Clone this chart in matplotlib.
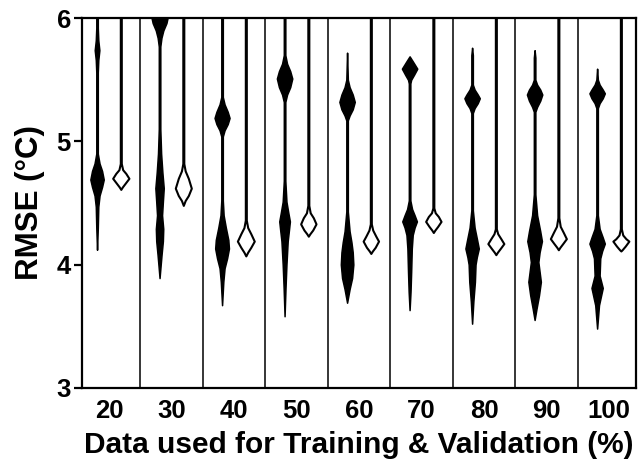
import matplotlib
matplotlib.use("Agg")
import matplotlib.pyplot as plt

plt.rcParams["font.family"] = ["Liberation Sans", "DejaVu Sans"]
plt.rcParams["font.weight"] = "bold"

groups = ["20", "30", "40", "50", "60", "70", "80", "90", "100"]

# violin outlines: (RMSE, half width in group units)
filled_profiles = [
    [(6.20, 0.012), (5.92, 0.012), (5.82, 0.02), (5.74, 0.037), (5.66, 0.02), (5.56, 0.012),
     (4.90, 0.012), (4.82, 0.04), (4.76, 0.08), (4.69, 0.107), (4.63, 0.08), (4.56, 0.04),
     (4.47, 0.02), (4.30, 0.012), (4.12, 0.0)],
    [(6.20, 0.0), (6.10, 0.09), (6.03, 0.14), (5.96, 0.11), (5.90, 0.06), (5.84, 0.03),
     (5.77, 0.012), (5.10, 0.012), (4.90, 0.025), (4.75, 0.045), (4.62, 0.067), (4.51, 0.053),
     (4.40, 0.04), (4.29, 0.059), (4.19, 0.053), (4.08, 0.032), (3.98, 0.015), (3.89, 0.0)],
    [(6.20, 0.012), (5.36, 0.012), (5.30, 0.04), (5.24, 0.09), (5.19, 0.12), (5.14, 0.09),
     (5.09, 0.04), (5.04, 0.012), (4.52, 0.012), (4.40, 0.025), (4.30, 0.06), (4.20, 0.10),
     (4.13, 0.11), (4.05, 0.08), (3.97, 0.04), (3.86, 0.02), (3.67, 0.0)],
    [(6.20, 0.012), (5.70, 0.012), (5.63, 0.04), (5.57, 0.09), (5.51, 0.123), (5.44, 0.09),
     (5.38, 0.04), (5.32, 0.012), (4.68, 0.012), (4.51, 0.03), (4.42, 0.06), (4.35, 0.085),
     (4.28, 0.07), (4.19, 0.05), (4.00, 0.03), (3.81, 0.015), (3.58, 0.0)],
    [(5.72, 0.0), (5.50, 0.012), (5.44, 0.04), (5.38, 0.09), (5.32, 0.123), (5.26, 0.09),
     (5.21, 0.04), (5.17, 0.012), (4.43, 0.012), (4.27, 0.04), (4.18, 0.07), (4.10, 0.09),
     (4.00, 0.10), (3.89, 0.08), (3.80, 0.04), (3.69, 0.0)],
    [(5.69, 0.0), (5.65, 0.05), (5.59, 0.123), (5.54, 0.07), (5.50, 0.025), (5.47, 0.012),
     (4.52, 0.012), (4.45, 0.04), (4.40, 0.08), (4.35, 0.117), (4.30, 0.08), (4.24, 0.05),
     (4.13, 0.035), (3.94, 0.025), (3.78, 0.015), (3.63, 0.0)],
    [(5.76, 0.0), (5.70, 0.012), (5.46, 0.012), (5.42, 0.04), (5.38, 0.09), (5.35, 0.123),
     (5.31, 0.09), (5.27, 0.04), (5.23, 0.012), (4.44, 0.012), (4.30, 0.04), (4.20, 0.08),
     (4.13, 0.107), (4.06, 0.075), (4.00, 0.055), (3.86, 0.045), (3.70, 0.02), (3.52, 0.0)],
    [(5.74, 0.0), (5.68, 0.012), (5.50, 0.012), (5.46, 0.04), (5.42, 0.09), (5.38, 0.123),
     (5.33, 0.09), (5.28, 0.04), (5.24, 0.012), (4.57, 0.012), (4.40, 0.04), (4.27, 0.09),
     (4.19, 0.117), (4.10, 0.08), (4.02, 0.06), (3.94, 0.08), (3.86, 0.10), (3.75, 0.07),
     (3.64, 0.03), (3.55, 0.0)],
    [(5.59, 0.0), (5.50, 0.012), (5.46, 0.04), (5.42, 0.09), (5.39, 0.123), (5.35, 0.09),
     (5.31, 0.04), (5.27, 0.012), (4.40, 0.012), (4.29, 0.04), (4.22, 0.09), (4.17, 0.123),
     (4.11, 0.08), (4.05, 0.05), (3.91, 0.04), (3.86, 0.065), (3.81, 0.09), (3.74, 0.06),
     (3.67, 0.03), (3.48, 0.0)],
]

open_profiles = [
    [(6.20, 0.008), (4.82, 0.008), (4.77, 0.03), (4.74, 0.08), (4.70, 0.13), (4.66, 0.07),
     (4.63, 0.025), (4.61, 0.0)],
    [(6.20, 0.008), (4.82, 0.008), (4.76, 0.03), (4.70, 0.08), (4.62, 0.128), (4.56, 0.08),
     (4.52, 0.03), (4.48, 0.0)],
    [(6.20, 0.008), (4.36, 0.008), (4.30, 0.03), (4.25, 0.08), (4.19, 0.135), (4.14, 0.08),
     (4.10, 0.03), (4.07, 0.0)],
    [(6.20, 0.008), (4.48, 0.008), (4.42, 0.03), (4.38, 0.08), (4.33, 0.123), (4.28, 0.07),
     (4.25, 0.025), (4.23, 0.0)],
    [(6.20, 0.008), (4.33, 0.008), (4.28, 0.03), (4.23, 0.08), (4.19, 0.123), (4.14, 0.07),
     (4.11, 0.025), (4.09, 0.0)],
    [(6.20, 0.008), (4.46, 0.008), (4.42, 0.03), (4.39, 0.08), (4.35, 0.123), (4.31, 0.07),
     (4.28, 0.025), (4.26, 0.0)],
    [(6.20, 0.008), (4.29, 0.008), (4.25, 0.03), (4.21, 0.08), (4.17, 0.128), (4.13, 0.07),
     (4.10, 0.025), (4.08, 0.0)],
    [(6.20, 0.008), (4.38, 0.008), (4.31, 0.03), (4.26, 0.08), (4.21, 0.128), (4.17, 0.07),
     (4.14, 0.025), (4.12, 0.0)],
    [(6.20, 0.008), (4.29, 0.008), (4.24, 0.03), (4.21, 0.08), (4.19, 0.128), (4.15, 0.07),
     (4.12, 0.02), (4.11, 0.0)],
]

offset = 0.19

fig = plt.figure(figsize=(6.41, 4.66), dpi=100)
ax = fig.add_axes([0.128, 0.168, 0.864, 0.793])


def draw_violin(ax, x0, profile, face, lw):
    ys = [p[0] for p in profile]
    hw = [p[1] for p in profile]
    ax.fill_betweenx(ys, [x0 - w for w in hw], [x0 + w for w in hw],
                     facecolor=face, edgecolor="black", linewidth=lw, zorder=3)


for i in range(len(groups)):
    draw_violin(ax, i - offset, filled_profiles[i], "black", 1.1)
    draw_violin(ax, i + offset, open_profiles[i], "white", 1.5)

# group separators
for i in range(len(groups) - 1):
    ax.axvline(i + 0.5, color="black", linewidth=1.1, zorder=2)

ax.set_xlim(-0.43, len(groups) - 1 + 0.43)
ax.set_ylim(3, 6)
ax.set_yticks([3, 4, 5, 6])
ax.set_xticks(range(len(groups)))
ax.set_xticklabels(groups)

for s in ax.spines.values():
    s.set_linewidth(1.6)

ax.tick_params(axis="x", length=0, pad=8, labelsize=18.5)
ax.tick_params(axis="y", length=6, width=1.6, pad=2, labelsize=18.5)

ax.set_xlabel("Data used for Training & Validation (%)", fontsize=21.5, fontweight="bold")
ax.set_ylabel("RMSE (°C)", fontsize=22.5, fontweight="bold")
ax.yaxis.set_label_coords(-0.066, 0.5)
ax.xaxis.set_label_coords(0.5, -0.117)

fig.savefig("out.png", dpi=100)
